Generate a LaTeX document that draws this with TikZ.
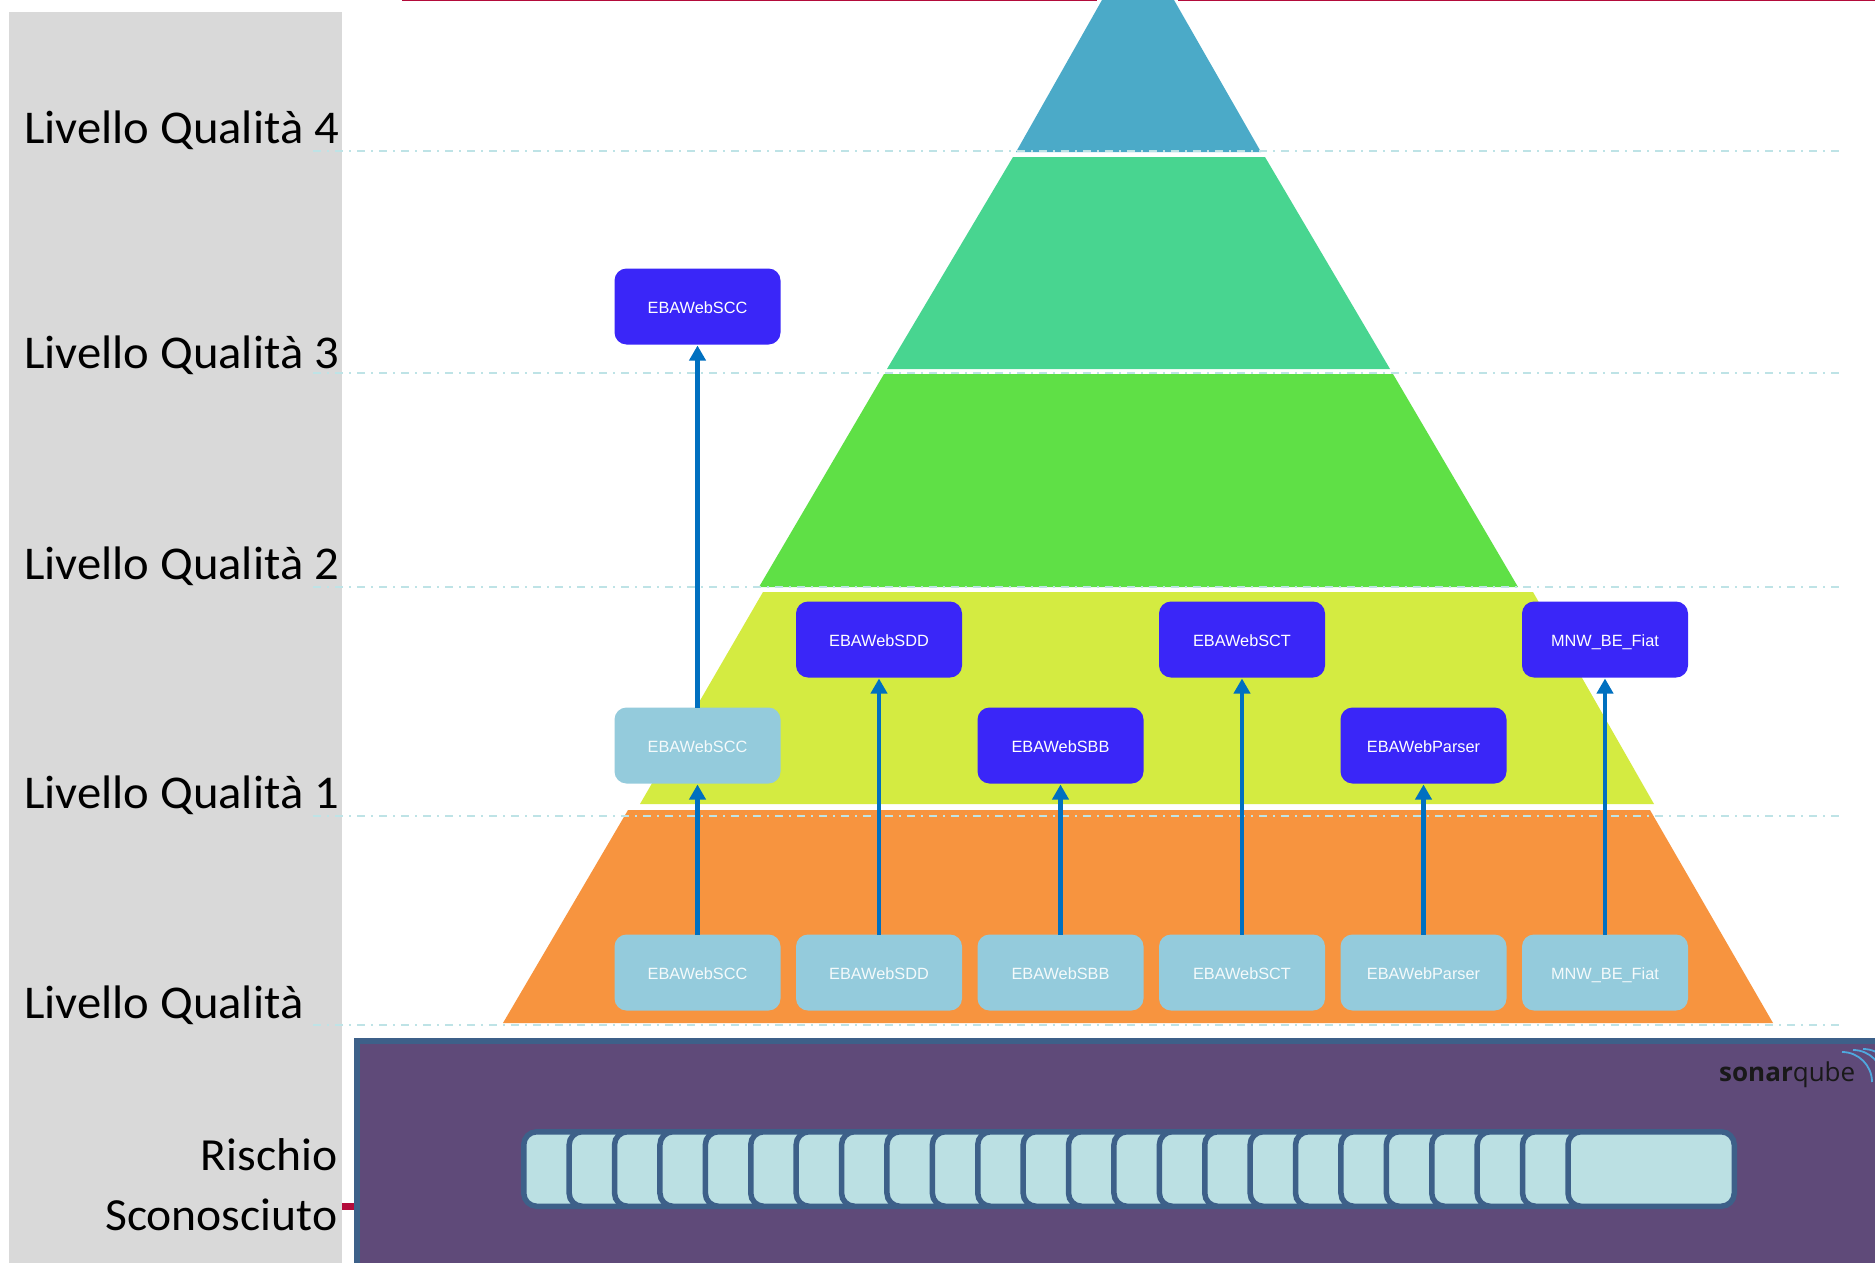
\documentclass[tikz,border=0pt]{standalone}
\usepackage{fontspec}
\setmainfont{Carlito}[FakeStretch=1.035]
\newfontfamily\boxfont{Liberation Sans}
\newfontfamily\logobold{Open Sans}[UprightFont=* Bold]
\newfontfamily\logolight{Open Sans}
\usetikzlibrary{arrows.meta}
\definecolor{panelgray}{HTML}{D9D9D9}
\definecolor{pblue}{HTML}{4BAAC8}
\definecolor{pteal}{HTML}{48D590}
\definecolor{pgreen}{HTML}{5FE046}
\definecolor{pyellow}{HTML}{D4EB41}
\definecolor{porange}{HTML}{F7943F}
\definecolor{boxdark}{HTML}{3A26F8}
\definecolor{boxlight}{HTML}{94CBDC}
\definecolor{arrowblue}{HTML}{0070C0}
\definecolor{purplebg}{HTML}{5F4A79}
\definecolor{borderblue}{HTML}{3D6089}
\definecolor{segfill}{HTML}{BBE0E3}
\definecolor{dashcol}{HTML}{BEE3E6}
\definecolor{redline}{HTML}{B30B3A}
\definecolor{wave}{HTML}{4FA8DE}
\tikzset{
  levellabel/.style={anchor=base west,inner sep=0pt,font=\fontsize{47}{47}\selectfont,text=black},
  risklabel/.style={anchor=base east,inner sep=0pt,font=\fontsize{46}{46}\selectfont,text=black},
  appbox/.style={rounded corners=12pt,minimum width=166pt,minimum height=76pt,inner sep=0pt,outer sep=0pt,text height=13.5pt,text depth=0pt,font=\boxfont\fontsize{16.3}{16}\selectfont},
  darkbox/.style={appbox,fill=boxdark,text=white},
  lightbox/.style={appbox,fill=boxlight,text=white!90!boxlight},
  levelline/.style={dashcol,line width=2pt,dash pattern=on 8pt off 6pt on 2pt off 6pt},
  uparrow/.style={arrowblue,line width=4.5pt,-{Triangle[length=15pt,width=16pt]},shorten >=1pt},
  segment/.style={draw=borderblue,line width=5.5pt,fill=segfill,rounded corners=13pt}
}
\begin{document}
\begin{tikzpicture}[x=1pt,y=-1pt]
\clip (0,0) rectangle (1875,1263);
\fill[white] (0,0) rectangle (1875,1263);
% left panel
\fill[panelgray] (9,12) rectangle (342,1263);
% red rule
\fill[redline] (402,0) rectangle (1875,1.5);
\fill[redline] (342,1203) rectangle (356,1210);
% pyramid
\fill[white] (1097,0) rectangle (1178,2);
\fill[pblue] (1102,0) -- (1174,0) -- (1261,152) -- (1016,152) -- cycle;
\fill[pteal] (1013,157) -- (1265,157) -- (1390,369) -- (887,369) -- cycle;
\fill[pgreen] (884,374) -- (1393,374) -- (1518,587) -- (759,587) -- cycle;
\fill[pyellow] (763,592) -- (1533,592) -- (1654,804) -- (640,804) -- cycle;
\fill[porange] (628,810) -- (1650,810) -- (1773,1023) -- (503,1023) -- cycle;
% level lines
\foreach \yy in {150.5,373,586.7,815.7,1025}
  \draw[levelline] (313,\yy) -- (1840,\yy);
% sonarqube panel
\draw[borderblue,line width=5.5pt,fill=purplebg] (357,1041) rectangle (1900,1290);
\foreach \i in {0,...,22}
  \draw[segment] ({523.75+\i*45.4},1131.75) rectangle ({523.75+\i*45.4+70},1206.25);
\draw[segment] (1568,1131.75) rectangle (1734.25,1206.25);
% logo
\node[anchor=base west,inner sep=0pt,text=black!90] (logo) at (1719,1081)
  {\fontsize{26}{26}\selectfont{\logobold sonar}{\logolight qube}};
\draw[wave,line width=1.8pt] (1842,1052) arc[start angle=90,end angle=0,radius=30pt];
\draw[wave,line width=1.8pt] (1853,1050) arc[start angle=90,end angle=0,radius=30pt];
\draw[wave,line width=1.8pt] (1863,1049) arc[start angle=90,end angle=0,radius=30pt];
% boxes
\node[darkbox] (scctop) at (697.5,306.5) {EBAWebSCC};
\node[darkbox] (sddtop) at (879,639.5) {EBAWebSDD};
\node[darkbox] (scttop) at (1242,639.5) {EBAWebSCT};
\node[darkbox] (mnwtop) at (1605,639.5) {MNW\_BE\_Fiat};
\node[lightbox] (sccmid) at (697.5,745.5) {EBAWebSCC};
\node[darkbox] (sbbmid) at (1060.5,745.5) {EBAWebSBB};
\node[darkbox] (parmid) at (1423.5,745.5) {EBAWebParser};
\node[lightbox] (sccbot) at (697.5,972.5) {EBAWebSCC};
\node[lightbox] (sddbot) at (879,972.5) {EBAWebSDD};
\node[lightbox] (sbbbot) at (1060.5,972.5) {EBAWebSBB};
\node[lightbox] (sctbot) at (1242,972.5) {EBAWebSCT};
\node[lightbox] (parbot) at (1423.5,972.5) {EBAWebParser};
\node[lightbox] (mnwbot) at (1605,972.5) {MNW\_BE\_Fiat};
% arrows
\draw[uparrow] (sccbot.north) -- (sccmid.south);
\draw[uparrow] (sccmid.north) -- (scctop.south);
\draw[uparrow] (sddbot.north) -- (sddtop.south);
\draw[uparrow] (sbbbot.north) -- (sbbmid.south);
\draw[uparrow] (sctbot.north) -- (scttop.south);
\draw[uparrow] (parbot.north) -- (parmid.south);
\draw[uparrow] (mnwbot.north) -- (mnwtop.south);
% labels
\node[levellabel] (l4) at (24,143) {Livello Qualità 4};
\node[levellabel] (l3) at (24,368) {Livello Qualità 3};
\node[levellabel] (l2) at (24,579) {Livello Qualità 2};
\node[levellabel] (l1) at (24,808) {Livello Qualità 1};
\node[levellabel] (l0) at (24,1018) {Livello Qualità};
\node[risklabel] (r1) at (337.5,1170) {Rischio};
\node[risklabel] (r2) at (337.5,1230) {Sconosciuto};
\end{tikzpicture}
\end{document}
